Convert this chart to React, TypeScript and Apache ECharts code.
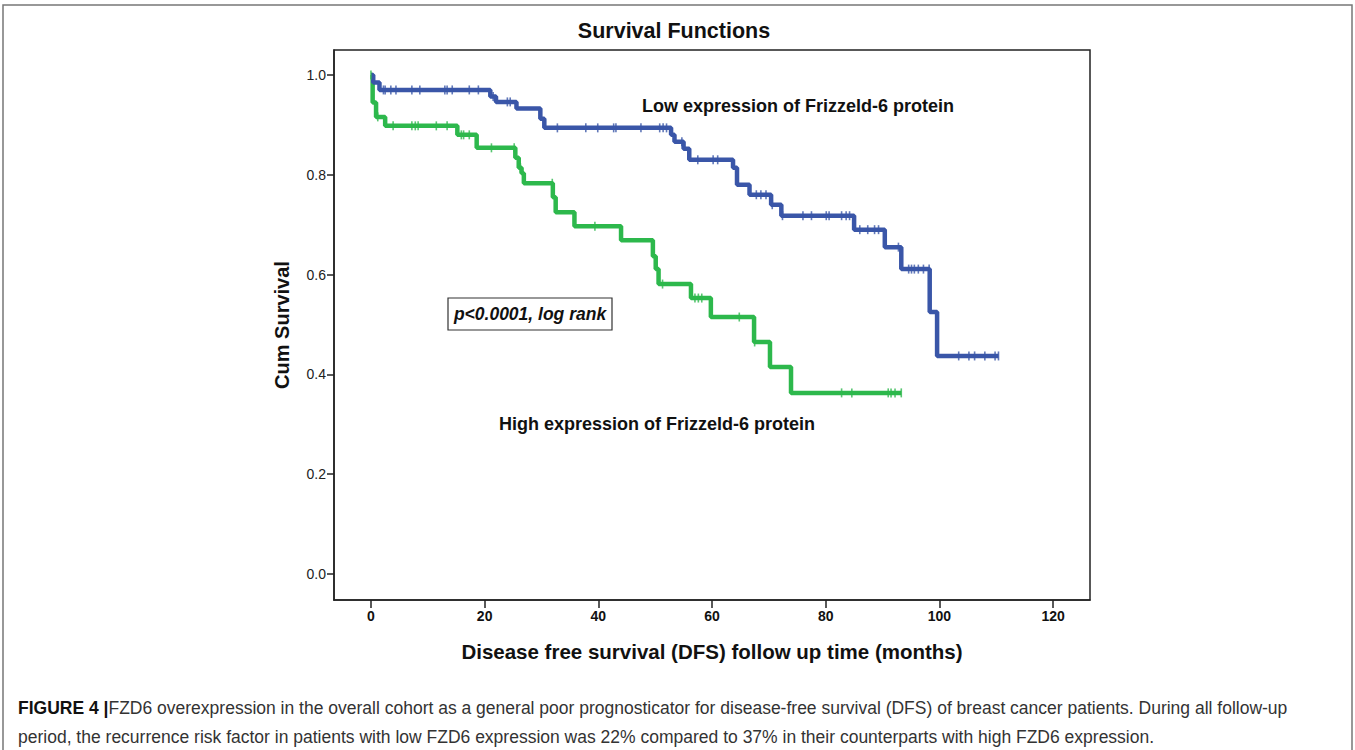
import React, { useEffect, useRef } from "react";
import * as echarts from "echarts";

// Kaplan-Meier steps: [time (months), cumulative survival]
const lowExpressionSteps: [number, number][] = [
  [0, 1.0], [0.4, 0.985], [1.5, 0.97], [21.0, 0.957], [22.0, 0.946], [25.6, 0.933],
  [29.8, 0.912], [30.5, 0.894], [52.8, 0.88], [53.4, 0.866], [55.0, 0.852], [56.0, 0.83],
  [63.7, 0.814], [64.4, 0.78], [66.6, 0.76], [70.4, 0.74], [72.2, 0.718], [85.0, 0.69],
  [90.4, 0.655], [93.3, 0.611], [98.3, 0.525], [99.6, 0.437], [110.4, 0.437],
];
const highExpressionSteps: [number, number][] = [
  [0, 1.0], [0.3, 0.945], [0.9, 0.916], [2.5, 0.898], [15.2, 0.88], [18.6, 0.854],
  [25.4, 0.834], [26.0, 0.814], [26.5, 0.803], [26.9, 0.783], [32.0, 0.755], [32.5, 0.725],
  [35.8, 0.697], [44.0, 0.669], [49.6, 0.637], [50.1, 0.611], [50.6, 0.581], [56.3, 0.553],
  [59.8, 0.515], [67.4, 0.465], [70.2, 0.415], [73.9, 0.363], [93.3, 0.363],
];
// censored observation times (months)
const lowCensored = [
  2.2, 2.5, 3.5, 4.4, 7.2, 8.6, 13.0, 13.4, 14.3, 17.3, 18.9, 21.5, 24.0, 24.5,
  32.8, 37.8, 39.9, 42.7, 43.1, 47.5, 50.8, 51.4, 52.0, 54.7, 57.5, 60.2, 61.0,
  67.8, 68.6, 69.5, 70.6, 72.4, 76.0, 77.5, 80.1, 80.6, 82.8, 83.6, 84.2, 86.0,
  87.4, 88.6, 89.3, 92.8, 94.6, 95.1, 95.6, 96.3, 97.2, 98.2, 103.4, 105.2, 106.2,
  108.0, 109.8, 110.4,
];
const highCensored = [
  0, 1.2, 3.9, 7.2, 7.8, 8.3, 11.5, 13.4, 15.9, 16.3, 17.3, 21.2, 25.2, 26.3, 31.9,
  39.4, 51.3, 57.0, 57.6, 58.2, 64.8, 67.5, 82.8, 84.6, 91.0, 91.5, 92.2, 93.3,
];
const xTicks = [0, 20, 40, 60, 80, 100, 120];
const yTicks = [0, 0.2, 0.4, 0.6, 0.8, 1.0];

const BLUE = "#3a56a8";
const GREEN = "#2db84c";

function survivalAt(steps: [number, number][], t: number): number {
  let s = steps[0][1];
  for (const [time, val] of steps) {
    if (time <= t) s = val;
    else break;
  }
  return s;
}

export default function App() {
  const ref = useRef<HTMLDivElement>(null);
  useEffect(() => {
    if (!ref.current) return;
    const chart = echarts.init(ref.current, null, { renderer: "svg" });
    const font = "Liberation Sans, Arial, Helvetica, sans-serif";
    const censorSymbol = { symbol: "rect", symbolSize: [1.6, 9] as [number, number] };
    chart.setOption({
      animation: false,
      backgroundColor: "#fff",
      grid: {
        left: 334, top: 50, width: 756, height: 550,
        show: true, borderColor: "#222", borderWidth: 1.5, backgroundColor: "transparent",
      },
      xAxis: {
        type: "value", min: -6.5, max: 126.5,
        axisLine: { show: true, onZero: false, lineStyle: { color: "#222", width: 1.5 } },
        axisTick: { show: true, customValues: xTicks, length: 8, lineStyle: { color: "#222", width: 1.5 } },
        axisLabel: { customValues: xTicks, fontWeight: "bold", fontSize: 14, color: "#111", margin: 9, fontFamily: font },
        splitLine: { show: false },
        name: "Disease free survival (DFS) follow up time (months)",
        nameLocation: "middle", nameGap: 41,
        nameTextStyle: { fontSize: 20.5, fontWeight: "bold", color: "#111", fontFamily: font },
      },
      yAxis: {
        type: "value", min: -0.052, max: 1.05,
        axisLine: { show: true, onZero: false, lineStyle: { color: "#222", width: 1.5 } },
        axisTick: { show: true, customValues: yTicks, length: 7, lineStyle: { color: "#222", width: 1.5 } },
        axisLabel: {
          customValues: yTicks, fontSize: 14, color: "#222", margin: 8, fontFamily: font,
          formatter: (v: number) => v.toFixed(1),
        },
        splitLine: { show: false },
        name: "Cum Survival", nameLocation: "middle", nameGap: 42,
        nameTextStyle: { fontSize: 20, fontWeight: "bold", color: "#111", fontFamily: font },
      },
      series: [
        {
          type: "line", step: "end", data: lowExpressionSteps, showSymbol: false,
          lineStyle: { color: BLUE, width: 4.5 }, z: 3,
        },
        {
          type: "line", step: "end", data: highExpressionSteps, showSymbol: false,
          lineStyle: { color: GREEN, width: 4.5 }, z: 2,
        },
        {
          type: "scatter", ...censorSymbol, itemStyle: { color: BLUE }, z: 4,
          data: lowCensored.map((t) => [t, survivalAt(lowExpressionSteps, t)]),
        },
        {
          type: "scatter", ...censorSymbol, itemStyle: { color: GREEN }, z: 4,
          data: highCensored.map((t) => [t, survivalAt(highExpressionSteps, t)]),
        },
      ],
      graphic: [
        {
          type: "rect", shape: { x: 3, y: 5, width: 1349, height: 760 },
          style: { fill: "none", stroke: "#777", lineWidth: 1.5 }, silent: true,
        },
        {
          type: "text", x: 674, y: 31,
          style: { text: "Survival Functions", font: `bold 21.5px ${font}`, fill: "#111", textAlign: "center", textVerticalAlign: "middle" },
        },
        {
          type: "text", x: 798, y: 106,
          style: { text: "Low expression of Frizzeld-6 protein", font: `bold 18px ${font}`, fill: "#111", textAlign: "center", textVerticalAlign: "middle" },
        },
        {
          type: "text", x: 657, y: 424,
          style: { text: "High expression of Frizzeld-6 protein", font: `bold 18px ${font}`, fill: "#111", textAlign: "center", textVerticalAlign: "middle" },
        },
        {
          type: "rect", shape: { x: 448, y: 298, width: 164, height: 32 },
          style: { fill: "#fff", stroke: "#333", lineWidth: 1.2 },
        },
        {
          type: "text", x: 530, y: 314,
          style: { text: "p<0.0001, log rank", font: `italic bold 17.5px ${font}`, fill: "#111", textAlign: "center", textVerticalAlign: "middle" },
        },
        {
          type: "text", x: 18, y: 708,
          style: {
            text: "{b|FIGURE 4 |}FZD6 overexpression in the overall cohort as a general poor prognosticator for disease-free survival (DFS) of breast cancer patients. During all follow-up",
            font: `17.5px ${font}`, fill: "#333", textVerticalAlign: "middle",
            rich: { b: { fontWeight: "bold", fontSize: 17.5, fontFamily: font, fill: "#111" } },
          },
        },
        {
          type: "text", x: 18, y: 737,
          style: {
            text: "period, the recurrence risk factor in patients with low FZD6 expression was 22% compared to 37% in their counterparts with high FZD6 expression.",
            font: `17.5px ${font}`, fill: "#333", textVerticalAlign: "middle",
          },
        },
      ],
    });
    return () => chart.dispose();
  }, []);
  return <div ref={ref} style={{ position: "absolute", left: 0, top: 0, width: 1355, height: 750 }} />;
}
